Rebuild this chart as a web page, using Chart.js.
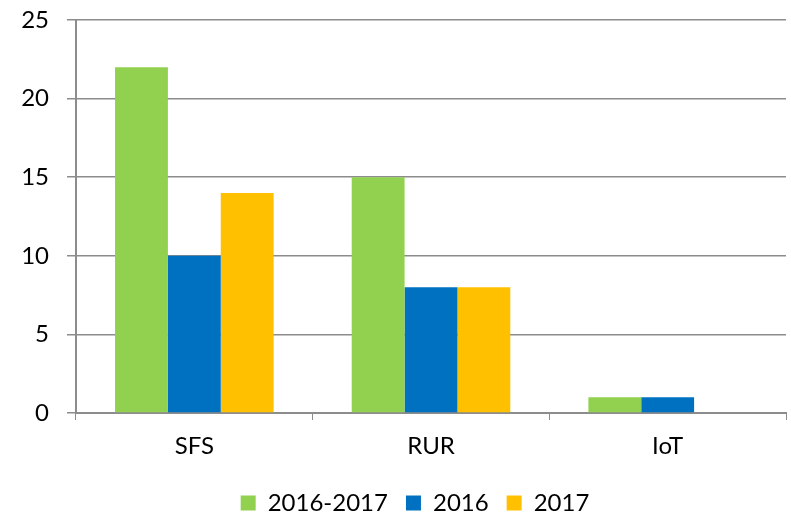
<!DOCTYPE html>
<html>
  <head>
    <title>Bar Chart</title>
    <script src="https://cdn.jsdelivr.net/npm/chart.js"></script>
    <style>
      html, body { margin: 0; padding: 0; background: #fff; }
    </style>
  </head>
  <body>
    <canvas id="chart" width="791" height="515"></canvas>
    <script>
      const categories = ["SFS", "RUR", "IoT"];
      const seriesNames = ["2016-2017", "2016", "2017"];
      const both = [22, 15, 1];
      const y2016 = [10, 8, 1];
      const y2017 = [14, 8, 0];
      const yTicks = [0, 5, 10, 15, 20, 25];

      const colors = ["#92D050", "#0070C0", "#FFC000"];
      const gridColor = "#8c8c8c";
      Chart.defaults.font.family = "Lato, 'Open Sans', sans-serif";
      Chart.defaults.color = "#000";

      // nudge the legend to the right, like the original
      const shiftLegend = {
        id: "shiftLegend",
        afterLayout(chart) {
          chart.legend.left += 22;
          chart.legend.right += 22;
        },
      };

      const ctx = document.getElementById("chart").getContext("2d");
      let chart = new Chart(ctx, {
        type: "bar",
        data: {
          labels: categories,
          datasets: [both, y2016, y2017].map((d, i) => ({
            label: seriesNames[i],
            data: d,
            backgroundColor: colors[i],
            borderWidth: 0,
            categoryPercentage: 0.67,
            barPercentage: 1.0,
          })),
        },
        plugins: [shiftLegend],
        options: {
          responsive: false,
          animation: false,
          layout: { padding: { top: 20, right: 5, left: 0, bottom: -10 } },
          plugins: {
            tooltip: { enabled: false },
            legend: {
              position: "bottom",
              labels: {
                font: { size: 24 },
                boxWidth: 15,
                boxHeight: 15,
                padding: 18,
              },
            },
          },
          scales: {
            x: {
              grid: {
                drawOnChartArea: false,
                drawTicks: true,
                tickLength: 7,
                color: gridColor,
                offset: true,
              },
              border: { color: gridColor, width: 2 },
              ticks: { font: { size: 24 }, padding: 12 },
              afterFit: (s) => { s.height = 60; },
            },
            y: {
              min: 0,
              max: 25,
              afterBuildTicks: (s) => { s.ticks = yTicks.map((v) => ({ value: v })); },
              grid: { color: gridColor, lineWidth: 1.5, tickLength: 9 },
              border: { color: gridColor, width: 2 },
              ticks: { font: { size: 24 }, padding: 18 },
              afterFit: (s) => {
                s.width = 76;
                s.paddingTop = 0;
                s.paddingBottom = 0;
              },
            },
          },
        },
      });
    </script>
  </body>
</html>
